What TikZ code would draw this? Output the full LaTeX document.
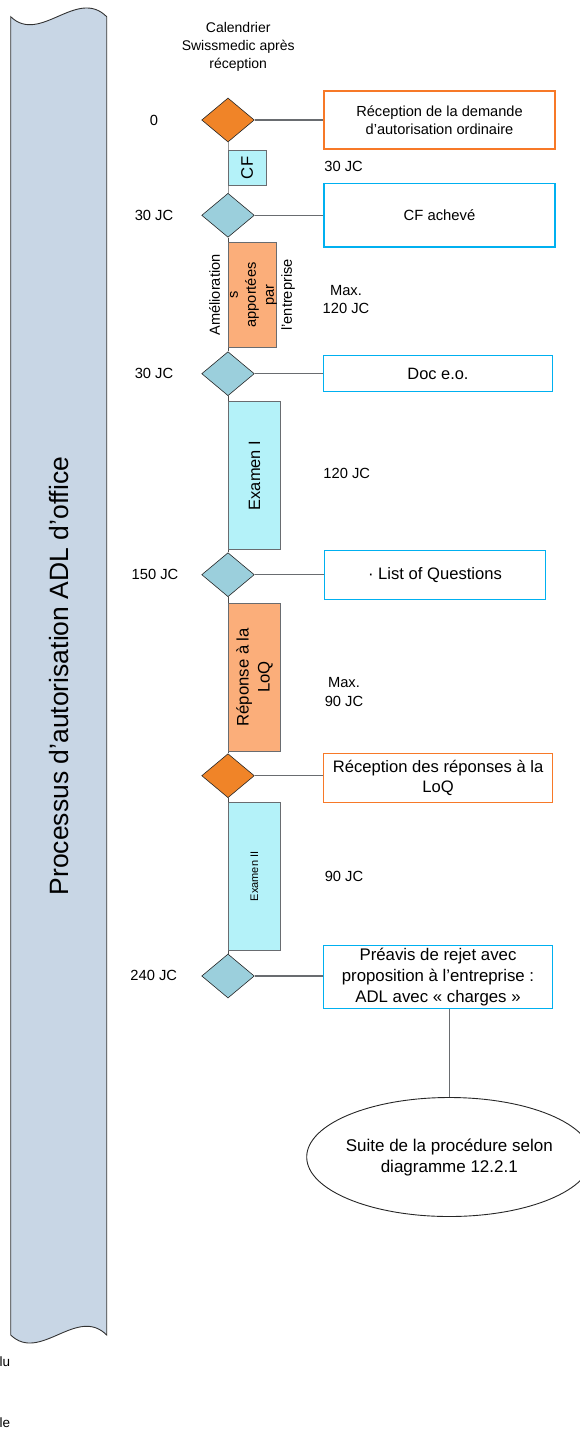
\documentclass[tikz,border=0pt]{standalone}
\usepackage{fontspec}
\setmainfont{Liberation Sans}
\usepackage{tikz}
\usetikzlibrary{shapes}

\definecolor{msorange}{RGB}{240,132,40}
\definecolor{msblue}{RGB}{155,207,220}
\definecolor{phcyan}{RGB}{180,242,249}
\definecolor{phorange}{RGB}{251,174,122}
\definecolor{bannerblue}{RGB}{200,214,229}
\definecolor{lineorange}{RGB}{247,121,40}
\definecolor{lineblue}{RGB}{0,176,240}
\definecolor{linegrey}{RGB}{105,108,112}

\begin{document}
\begin{tikzpicture}[x=1pt,y=-1pt]
      \tikzstyle{every node}=[inner sep=0pt]
      \tikzstyle{txt}=[font=\fontsize{14.7}{18.3}\selectfont,align=center]
      \tikzstyle{ms}=[diamond,draw=black!85,line width=0.6pt,minimum width=52.6pt,minimum height=44pt]
      \tikzstyle{phase}=[draw=linegrey,line width=0.9pt,rotate=90,align=center]
      \tikzstyle{note}=[draw,fill=white,align=center,font=\fontsize{16.6}{20.5}\selectfont]
      \tikzstyle{link}=[draw=linegrey,line width=1.1pt]
      \tikzstyle{spine}=[draw=black!70,line width=0.9pt]
      \useasboundingbox (0,0) rectangle (579,1447);
      % bandeau
      \draw[fill=bannerblue,draw=black!80,line width=0.9pt] (10.7,16.7) .. controls (40,45) and (77,-13) .. (106.7,16.7)
        -- (106.7,1335) .. controls (77,1305.3) and (40,1363.3) .. (10.7,1335) -- cycle;
      \node[rotate=90,font=\fontsize{26.5}{30}\selectfont] (banner) at (58.7,676) {Processus d’autorisation ADL d’office};
      \node[txt,font=\fontsize{14}{18}\selectfont] (title) at (238.2,47) {Calendrier\\Swissmedic après\\réception};
      % jalons
      \node[ms,fill=msorange] (d1) at (228,120) {};
      \node[ms,fill=msblue] (d2) at (228,215.3) {};
      \node[ms,fill=msblue] (d3) at (228,373.7) {};
      \node[ms,fill=msblue] (d4) at (228,574.7) {};
      \node[ms,fill=msorange] (d5) at (228,775.7) {};
      \node[ms,fill=msblue] (d6) at (228,976) {};
      \draw[spine,draw=black!40] (d1.south) -- (d2.north);
      \draw[spine] (d2.south) -- (d3.north) (d3.south) -- (d4.north)
        (d4.south) -- (d5.north) (d5.south) -- (d6.north);
      % phases
      \node[phase,fill=phcyan,minimum width=34.3pt,minimum height=37.7pt,font=\fontsize{16.7}{20}\selectfont] (p1) at (247.2,167.9) {CF};
      \node[phase,fill=phorange,minimum width=105.4pt,minimum height=48.2pt] (p2) at (252.1,295) {};
      \node[rotate=90,align=center,font=\fontsize{14.6}{18}\selectfont] (p2txt) at (p2.center) {Amélioration\\s\\apportées\\par\\l’entreprise};
      \node[phase,fill=phcyan,minimum width=147.6pt,minimum height=52.4pt,font=\fontsize{16.4}{20}\selectfont] (p3) at (254.5,475.5) {Examen I};
      \node[phase,fill=phorange,minimum width=147.7pt,minimum height=52.4pt,font=\fontsize{16.7}{21}\selectfont] (p4) at (254.5,677.2) {Réponse à la\\LoQ};
      \node[phase,fill=phcyan,minimum width=147.3pt,minimum height=52.4pt,font=\fontsize{11}{13}\selectfont] (p5) at (254.5,876.4) {Examen II};
      % cadres
      \node[note,draw=lineorange,line width=2.2pt,minimum width=231pt,minimum height=58.3pt,font=\fontsize{14.6}{18}\selectfont] (b1) at (439.5,119.9) {Réception de la demande\\d’autorisation ordinaire};
      \node[note,draw=lineblue,line width=1.4pt,minimum width=231pt,minimum height=63.7pt,font=\fontsize{14.8}{18}\selectfont] (b2) at (439.5,215.2) {CF achevé};
      \node[note,draw=lineblue,line width=1.4pt,minimum width=229.5pt,minimum height=36pt,font=\fontsize{16.4}{20}\selectfont] (b3) at (438,373.7) {Doc e.o.};
      \node[note,draw=lineblue,line width=1.3pt,minimum width=221.6pt,minimum height=49pt] (b4) at (435,574.8) {· List of Questions};
      \node[note,draw=lineorange,line width=1pt,minimum width=229.4pt,minimum height=49pt] (b5) at (438.1,777.8) {Réception des réponses à la\\LoQ};
      \node[note,draw=lineblue,line width=1.3pt,minimum width=229.4pt,minimum height=62.6pt,font=\fontsize{16.8}{21}\selectfont] (b6) at (438,977) {Préavis de rejet avec\\proposition à l’entreprise :\\ADL avec « charges »};
      \node[ellipse,draw=black!85,line width=0.9pt,minimum width=285.2pt,minimum height=119pt] (end) at (449.3,1157) {};
      \node[align=center,font=\fontsize{17}{21}\selectfont] (endtxt) at (end.center) {Suite de la procédure selon\\diagramme 12.2.1};
      \foreach \i in {1,...,6}
        \draw[link] (d\i.east) -- (d\i.east -| b\i.west);
      \draw[link] (end.north |- b6.south) -- (end.north);
      % durees
      \node[txt] (t1) at (343.6,166.7) {30 JC};
      \node[txt] (t2) at (346,299.2) {Max.\\120 JC};
      \node[txt] (t3) at (346.7,473.3) {120 JC};
      \node[txt] (t4) at (344,692) {Max.\\90 JC};
      \node[txt] (t5) at (344,876.7) {90 JC};
      \node[txt] (l1) at (154,120) {0};
      \node[txt] (l2) at (154,215.3) {30 JC};
      \node[txt] (l3) at (154,373.7) {30 JC};
      \node[txt] (l4) at (155,574.7) {150 JC};
      \node[txt] (l6) at (153.7,975.5) {240 JC};
      \node[txt,font=\fontsize{13.5}{16}\selectfont,anchor=east] (f1) at (10.3,1362) {lu};
      \node[txt,font=\fontsize{13.5}{16}\selectfont,anchor=east] (f2) at (10.3,1423) {le};
\end{tikzpicture}
\end{document}
